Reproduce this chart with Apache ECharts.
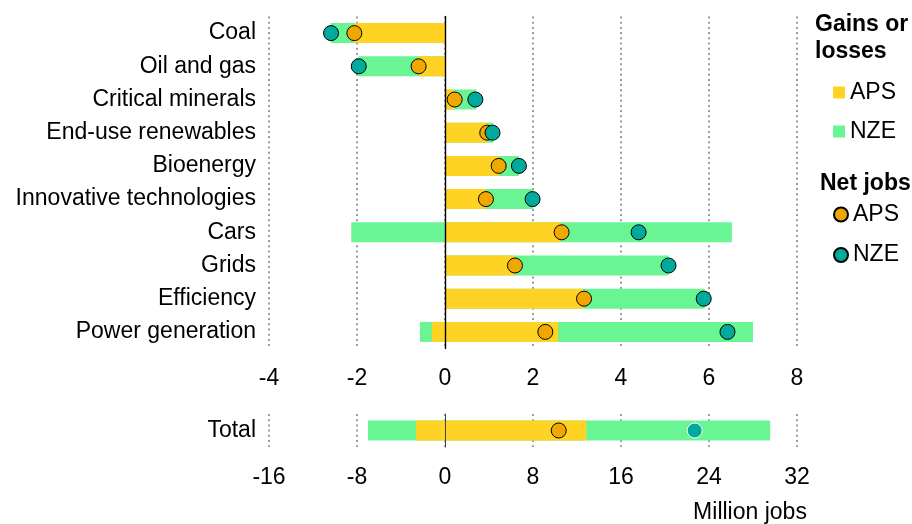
<!DOCTYPE html>
<html>
<head>
<meta charset="utf-8">
<script src="https://cdn.jsdelivr.net/npm/echarts@6/dist/echarts.min.js"></script>
<style>
  html, body { margin: 0; padding: 0; background: #fff; }
  #chart { width: 912px; height: 524px; }
</style>
</head>
<body>
<div id="chart"></div>
<script>
// Employment change by sector, million jobs
const categories = ['Coal', 'Oil and gas', 'Critical minerals', 'End-use renewables', 'Bioenergy',
  'Innovative technologies', 'Cars', 'Grids', 'Efficiency', 'Power generation'];
const apsGains  = [0, 0, 0.21, 0.96, 1.22, 0.92, 2.63, 1.58, 3.15, 2.57];
const apsLosses = [-2.07, -0.6, 0, 0, 0, 0, 0, 0, 0, -0.30];
const nzeGains  = [0, 0, 0.71, 1.10, 1.68, 2.00, 6.52, 5.08, 5.90, 7.00];
const nzeLosses = [-2.60, -1.97, 0, 0, 0, 0, -2.13, 0, 0, -0.57];
const apsNet    = [-2.06, -0.60, 0.22, 0.96, 1.22, 0.93, 2.65, 1.59, 3.16, 2.28];
const nzeNet    = [-2.59, -1.96, 0.69, 1.08, 1.68, 1.99, 4.40, 5.08, 5.88, 6.42];

const totalCategory  = ['Total'];
const totalApsGains  = [12.84];
const totalApsLosses = [-2.63];
const totalNzeGains  = [29.56];
const totalNzeLosses = [-7.0];
const totalApsNet    = [10.34];
const totalNzeNet    = [22.7];

const sectorTicks = [-4, -2, 0, 2, 4, 6, 8];
const totalTicks  = [-16, -8, 0, 8, 16, 24, 32];

const YELLOW = '#FFD324';
const GREEN  = '#69F594';
const ORANGE = '#F0A800';
const TEAL   = '#00AA9C';
const FONT = '"Liberation Sans", Arial, sans-serif';
const FS = 23;

const chart = echarts.init(document.getElementById('chart'), null, { renderer: 'canvas' });

function valueAxis(gridIndex, ticks) {
  return {
    type: 'value',
    gridIndex: gridIndex,
    min: ticks[0],
    max: ticks[ticks.length - 1],
    interval: ticks[1] - ticks[0],
    axisLine: { show: false },
    axisTick: { show: false },
    axisLabel: { fontFamily: FONT, fontSize: FS, color: '#000', margin: 19 },
    splitLine: {
      show: true,
      lineStyle: { color: '#9b9b9b', width: 2, type: [2, 3.2] }
    }
  };
}

function catAxis(gridIndex, data, lineColor, lineWidth) {
  return {
    type: 'category',
    gridIndex: gridIndex,
    data: data,
    inverse: true,
    z: 10,
    axisLine: { show: true, onZero: true, lineStyle: { color: lineColor, width: lineWidth } },
    axisTick: { show: false },
    axisLabel: { fontFamily: FONT, fontSize: FS, color: '#000', margin: 13 }
  };
}

function barSeries(name, data, stack, color, xi) {
  return {
    name: name, type: 'bar', data: data, stack: stack,
    xAxisIndex: xi, yAxisIndex: xi,
    barWidth: 20, barGap: '-100%',
    itemStyle: { color: color },
    emphasis: { disabled: true },
    animation: false
  };
}

function netSeries(name, data, color, border, xi) {
  return {
    name: name, type: 'scatter', data: data,
    xAxisIndex: xi, yAxisIndex: xi,
    symbol: 'circle', symbolSize: 15,
    itemStyle: { color: color, borderColor: border, borderWidth: 1, opacity: 1 },
    emphasis: { disabled: true },
    animation: false
  };
}

chart.setOption({
  animation: false,
  textStyle: { fontFamily: FONT },
  grid: [
    { left: 269, right: 115, top: 16.5, height: 332 },
    { left: 269, right: 115, top: 414, height: 33 }
  ],
  xAxis: [valueAxis(0, sectorTicks), valueAxis(1, totalTicks)],
  yAxis: [catAxis(0, categories, '#000', 1.4), catAxis(1, totalCategory, '#444', 1)],
  legend: [
    {
      data: ['APS gains', 'NZE gains'],
      orient: 'vertical', left: 828, top: 76,
      itemWidth: 12, itemHeight: 12, itemGap: 16,
      icon: 'rect',
      formatter: n => n.split(' ')[0],
      textStyle: { fontFamily: FONT, fontSize: FS, color: '#000' },
      selectedMode: false
    },
    {
      data: ['APS net', 'NZE net'],
      orient: 'vertical', left: 828, top: 198,
      itemWidth: 14, itemHeight: 14, itemGap: 17.5,
      icon: 'circle',
      formatter: n => n.split(' ')[0],
      textStyle: { fontFamily: FONT, fontSize: FS, color: '#000' },
      selectedMode: false
    }
  ],
  graphic: [
    { type: 'text', left: 815, top: 11, style: { text: 'Gains or\nlosses', font: 'bold 23px ' + FONT, fill: '#000', lineHeight: 27 } },
    { type: 'text', left: 820, top: 172, style: { text: 'Net jobs', font: 'bold 23px ' + FONT, fill: '#000' } },
    { type: 'text', x: 750, y: 513, style: { text: 'Million jobs', font: FS + 'px ' + FONT, fill: '#000', align: 'center', verticalAlign: 'middle' } }
  ],
  series: [
    barSeries('NZE gains', nzeGains, 'nze', GREEN, 0),
    barSeries('NZE losses', nzeLosses, 'nze', GREEN, 0),
    barSeries('APS gains', apsGains, 'aps', YELLOW, 0),
    barSeries('APS losses', apsLosses, 'aps', YELLOW, 0),
    netSeries('APS net', apsNet, ORANGE, '#000', 0),
    netSeries('NZE net', nzeNet, TEAL, '#000', 0),
    barSeries('NZE gains', totalNzeGains, 'nzeTotal', GREEN, 1),
    barSeries('NZE losses', totalNzeLosses, 'nzeTotal', GREEN, 1),
    barSeries('APS gains', totalApsGains, 'apsTotal', YELLOW, 1),
    barSeries('APS losses', totalApsLosses, 'apsTotal', YELLOW, 1),
    netSeries('APS net', totalApsNet, ORANGE, '#000', 1),
    netSeries('NZE net', totalNzeNet, TEAL, '#fff', 1)
  ]
});
</script>
</body>
</html>
